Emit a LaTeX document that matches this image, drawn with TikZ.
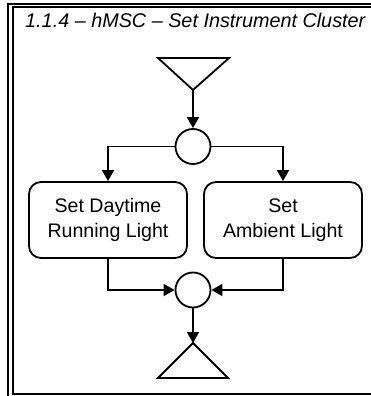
\documentclass[tikz,border=0pt]{standalone}
\usepackage{fontspec}
\setmainfont{Liberation Sans}
\usetikzlibrary{arrows.meta, positioning, calc}

\begin{document}
\begin{tikzpicture}[x=1pt,y=-1pt,>={Triangle[length=11pt,width=12pt]},
  line width=1.8pt,
  action/.style={draw, rounded corners=12pt, minimum width=158pt, minimum height=76pt,
    align=center, font=\fontsize{19.6}{25}\selectfont},
  gate/.style={draw, circle, minimum size=35pt, inner sep=0pt}]

\useasboundingbox (0,0) rectangle (371,396);
\clip (0,0) rectangle (371,396);

% --- Cornice
\draw[line width=1.3pt] (8,4) rectangle (390,410);
\draw[line width=2pt] (13,7.5) rectangle (390,394);
\node[anchor=base west, font=\fontsize{19.8}{22}\selectfont\itshape] (title) at (21,27.5)
  {1.1.4 -- hMSC -- Set Instrument Cluster};

% --- Inizio
\coordinate (start) at (193,90);
\draw (158,58) -- (229,58) -- (start) -- cycle;

% --- Biforcazione
\node[gate] (fork) at (193,146.5) {};
\draw[->] (start) -- (fork);

% --- Azioni
\node[action] (daytime) at (108,220) {Set Daytime\\Running Light};
\node[action] (ambient) at (283,220) {Set\\Ambient Light};
\draw[->] (fork.west) -| (daytime.north);
\draw[->] (fork.east) -| (ambient.north);

% --- Ricongiunzione
\node[gate] (join) at (193,290) {};
\draw[->] (daytime.south) |- (join.west);
\draw[->] (ambient.south) |- (join.east);

% --- Fine
\coordinate (stop) at (193,343);
\draw (158,378) -- (228,378) -- (stop) -- cycle;
\draw[->] (join) -- (stop);
\end{tikzpicture}
\end{document}
